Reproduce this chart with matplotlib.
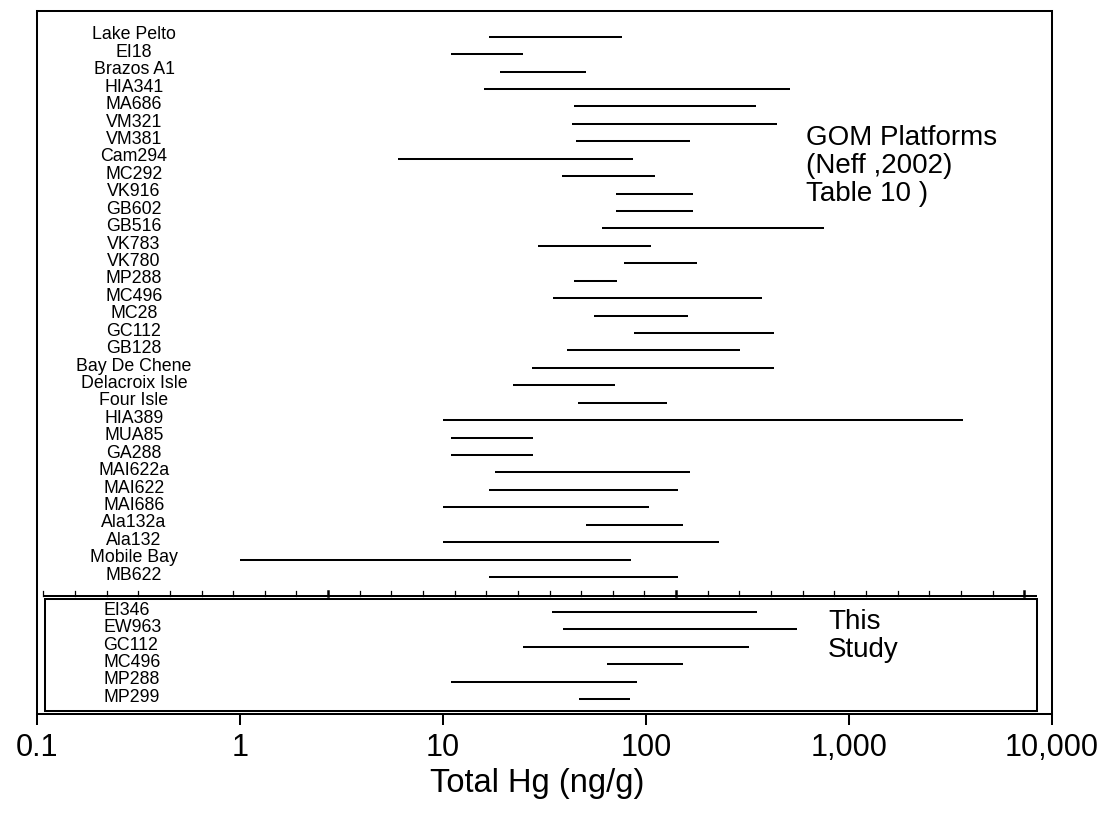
import matplotlib
matplotlib.use("Agg")
import matplotlib.pyplot as plt
from matplotlib.ticker import FixedLocator, FuncFormatter, NullLocator
from matplotlib.transforms import blended_transform_factory
from matplotlib.patches import Rectangle
import numpy as np

# ---------------- data ----------------
gom_sites = ["Lake Pelto", "EI18", "Brazos A1", "HIA341", "MA686", "VM321", "VM381",
             "Cam294", "MC292", "VK916", "GB602", "GB516", "VK783", "VK780", "MP288",
             "MC496", "MC28", "GC112", "GB128", "Bay De Chene", "Delacroix Isle",
             "Four Isle", "HIA389", "MUA85", "GA288", "MAI622a", "MAI622", "MAI686",
             "Ala132a", "Ala132", "Mobile Bay", "MB622"]
gom_low = [16.9, 10.9, 19.0, 16.0, 44.0, 43.0, 45.0, 6.0, 38.5, 71.0, 71.0, 60.7,
           29.3, 77.7, 44.0, 35.0, 55.2, 87.0, 41.0, 27.3, 22.1, 46.0, 10.0, 10.9,
           10.9, 18.0, 16.9, 10.0, 50.4, 10.0, 1.0, 16.9]
gom_high = [76.6, 24.7, 50.9, 511, 348, 444, 164, 86.3, 111, 171, 171, 755,
            106, 179, 72.0, 374, 161, 428, 290, 428, 70.6, 127.5, 3630, 27.6,
            27.6, 164, 143, 104, 153, 230, 84.3, 143]

study_sites = ["EI346", "EW963", "GC112", "MC496", "MP288", "MP299"]
study_low = [34.4, 38.9, 24.8, 64.3, 11.0, 46.6]
study_high = [353, 553, 323, 152.5, 90.8, 83.0]

xtick_values = [0.1, 1, 10, 100, 1000, 10000]
x_label = "Total Hg (ng/g)"
gom_note = "GOM Platforms\n(Neff ,2002)\nTable 10 )"
study_note = "This\nStudy"

# ---------------- layout ----------------
plt.rcParams["font.family"] = ["Liberation Sans", "DejaVu Sans"]
W, H = 1120, 814
fig = plt.figure(figsize=(W / 100, H / 100), dpi=100)


def fx(px):
    return px / W


def fy(py):
    return 1 - py / H


AX_L, AX_R, AX_T, AX_B = 37, 1052, 11, 714
ax = fig.add_axes([fx(AX_L), fy(AX_B), fx(AX_R) - fx(AX_L), fy(AX_T) - fy(AX_B)])


def axx(px):
    return (px - AX_L) / (AX_R - AX_L)


ROW0, ROWH = 36.7, 17.43


def ry(py):
    return (py - ROW0) / ROWH


gom_y = np.arange(len(gom_sites))
study_y = len(gom_sites) + 1 + np.arange(len(study_sites))

ax.set_xscale("log")
ax.set_xlim(xtick_values[0], xtick_values[-1])
ax.set_ylim(ry(AX_B), ry(AX_T))
ax.set_yticks([])

LW = 1.45
for s in ax.spines.values():
    s.set_linewidth(LW)

ax.hlines(gom_y, gom_low, gom_high, colors="black", lw=LW)
ax.hlines(study_y, study_low, study_high, colors="black", lw=LW)

trans = blended_transform_factory(ax.transAxes, ax.transData)
for name, yy in zip(gom_sites, gom_y):
    ax.text(axx(134), yy - 0.1, name, transform=trans, ha="center",
            va="center", fontsize=12.8)
for name, yy in zip(study_sites, study_y):
    ax.text(axx(103.5), yy - 0.1, name, transform=trans, ha="left",
            va="center", fontsize=12.8)

# separator with small ticks
sep = ry(596)
ax.plot([axx(43), axx(1037)], [sep, sep], transform=trans, color="black",
        lw=LW, clip_on=False, solid_capstyle="butt")
for k in range(32):
    xx = axx(43.3 + k * 31.64)
    ax.plot([xx, xx], [sep, sep - 5.0 / ROWH], transform=trans, color="black",
            lw=1.8 if k in (9, 20, 31) else 0.9, clip_on=False)

# inner box
bt, bb = ry(598.5), ry(710.7)
ax.add_patch(Rectangle((axx(45), bt), axx(1037) - axx(45), bb - bt,
                       transform=trans, fill=False, lw=LW, ec="black"))

# x axis
ax.xaxis.set_major_locator(FixedLocator(xtick_values))
ax.xaxis.set_minor_locator(NullLocator())
ax.xaxis.set_major_formatter(FuncFormatter(
    lambda v, p: "0.1" if v < 1 else f"{v:,.0f}"))
ax.tick_params(axis="x", which="major", direction="out", length=8, width=LW,
               labelsize=22, pad=6)
ax.set_xlabel(x_label, fontsize=23.5)
ax.xaxis.set_label_coords(axx(537), -0.077)

fig.text(fx(806), fy(125), gom_note, fontsize=20, ha="left", va="top",
         linespacing=1.1)
fig.text(fx(828), fy(609), study_note, fontsize=20, ha="left", va="top",
         linespacing=1.1)

fig.savefig("out.png", dpi=100)
